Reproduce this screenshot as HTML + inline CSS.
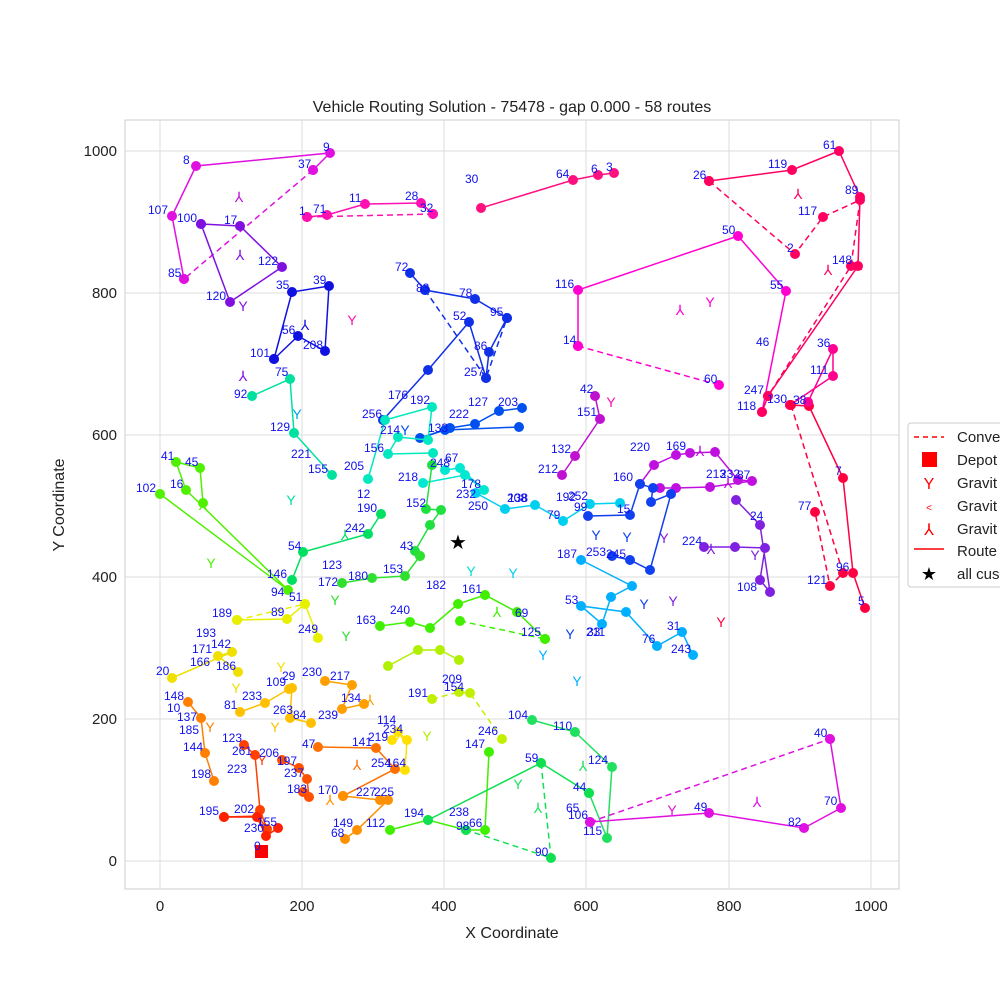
<!DOCTYPE html>
<html><head><meta charset="utf-8"><style>
body{margin:0;background:#fff}
svg{font-family:"Liberation Sans",sans-serif}
.r{fill:none;stroke-width:1.5}
.d{fill:none;stroke-width:1.5;stroke-dasharray:6,4}
.l{font-size:12px;fill:#1010ee}
.g{font-size:14px;text-anchor:middle}
</style></head><body>
<svg width="1000" height="1000" viewBox="0 0 1000 1000">
<defs>
<marker id="m" markerWidth="12" markerHeight="12" refX="6" refY="6" markerUnits="userSpaceOnUse"><circle cx="6" cy="6" r="5" fill="context-stroke"/></marker>
</defs>
<rect x="0" y="0" width="1000" height="1000" fill="#fff"/>
<rect x="125" y="120" width="774" height="769" fill="#fff" stroke="#ccc"/>
<g stroke="#ddd" stroke-width="1">
<line x1="160" y1="120" x2="160" y2="889"/><line x1="302" y1="120" x2="302" y2="889"/><line x1="444" y1="120" x2="444" y2="889"/><line x1="586" y1="120" x2="586" y2="889"/><line x1="729" y1="120" x2="729" y2="889"/><line x1="871" y1="120" x2="871" y2="889"/>
<line x1="125" y1="861" x2="899" y2="861"/><line x1="125" y1="719" x2="899" y2="719"/><line x1="125" y1="577" x2="899" y2="577"/><line x1="125" y1="435" x2="899" y2="435"/><line x1="125" y1="293" x2="899" y2="293"/><line x1="125" y1="151" x2="899" y2="151"/>
</g>
<g font-size="15" fill="#222" text-anchor="middle">
<text x="160" y="911">0</text><text x="302" y="911">200</text><text x="444" y="911">400</text><text x="586" y="911">600</text><text x="729" y="911">800</text><text x="871" y="911">1000</text>
<text x="512" y="938" font-size="16">X Coordinate</text>
<text x="512" y="112" font-size="16">Vehicle Routing Solution - 75478 - gap 0.000 - 58 routes</text>
</g>
<g font-size="15" fill="#222" text-anchor="end">
<text x="117" y="866">0</text><text x="117" y="724">200</text><text x="117" y="582">400</text><text x="117" y="440">600</text><text x="117" y="298">800</text><text x="117" y="156">1000</text>
</g>
<text transform="translate(64,505) rotate(-90)" font-size="16" fill="#222" text-anchor="middle">Y Coordinate</text>

<g class="g">
<text x="239" y="202" fill="#c010e0">⅄</text><text x="240" y="260" fill="#8010e0">⅄</text><text x="243" y="311" fill="#8010e0">Y</text><text x="305" y="330" fill="#1010e0">⅄</text><text x="352" y="325" fill="#ff10b0">Y</text>
<text x="243" y="381" fill="#8010e0">⅄</text><text x="297" y="419" fill="#00a0e0">Y</text><text x="291" y="505" fill="#00e0a0">Y</text><text x="211" y="568" fill="#50f000">Y</text><text x="203" y="510" fill="#50f000">⅄</text>
<text x="317" y="641" fill="#e8f000">⅄</text><text x="346" y="641" fill="#30e030">Y</text><text x="281" y="672" fill="#f0e000">Y</text><text x="236" y="693" fill="#f0e000">Y</text><text x="210" y="732" fill="#ff8000">Y</text>
<text x="275" y="732" fill="#ffc000">Y</text><text x="370" y="705" fill="#ffa000">⅄</text><text x="427" y="741" fill="#b0f000">Y</text><text x="357" y="770" fill="#ff7000">⅄</text><text x="330" y="805" fill="#ff9000">⅄</text>
<text x="471" y="576" fill="#00e0d0">Y</text><text x="513" y="578" fill="#00d0f0">Y</text><text x="543" y="660" fill="#00b0ff">Y</text><text x="577" y="686" fill="#00b0ff">Y</text><text x="570" y="639" fill="#1040f0">Y</text>
<text x="596" y="540" fill="#1040f0">Y</text><text x="627" y="542" fill="#1040f0">Y</text><text x="664" y="543" fill="#8020e0">Y</text><text x="644" y="609" fill="#1040f0">Y</text><text x="673" y="606" fill="#8020e0">Y</text>
<text x="721" y="627" fill="#ff0040">Y</text><text x="710" y="307" fill="#ff00d0">Y</text><text x="680" y="315" fill="#ff00d0">⅄</text><text x="757" y="807" fill="#e010e0">⅄</text><text x="828" y="275" fill="#ff0060">⅄</text>
<text x="858" y="270" fill="#ff0060">⅄</text><text x="798" y="199" fill="#ff0060">⅄</text><text x="711" y="554" fill="#8020e0">⅄</text><text x="728" y="488" fill="#c010e0">⅄</text><text x="700" y="456" fill="#c010e0">⅄</text>
<text x="611" y="407" fill="#ff10b0">Y</text><text x="497" y="617" fill="#40f000">⅄</text><text x="518" y="789" fill="#20e060">Y</text><text x="538" y="813" fill="#20e060">⅄</text><text x="405" y="435" fill="#0050f0">Y</text>
<text x="335" y="605" fill="#30e030">Y</text><text x="262" y="765" fill="#ff4000">Y</text><text x="345" y="540" fill="#00e060">⅄</text><text x="400" y="740" fill="#ffe000">⅄</text><text x="583" y="771" fill="#20e060">⅄</text><text x="672" y="815" fill="#e010e0">Y</text><text x="755" y="560" fill="#8020e0">Y</text>
</g>

<g marker-start="url(#m)" marker-mid="url(#m)" marker-end="url(#m)">
<polyline class="r" stroke="#e010e0" points="184,279 172,216 196,166 330,153 313,170"/>
<polyline class="d" stroke="#e010e0" points="313,170 184,279"/>
<polyline class="r" stroke="#8010e0" points="201,224 240,226 282,267 230,302 201,224"/>
<polyline class="r" stroke="#ff10b0" points="307,217 327,215 365,204 421,203 433,214"/>
<polyline class="d" stroke="#ff10b0" points="433,214 307,217"/>
<polyline class="r" stroke="#1010e0" points="274,359 298,336 325,351 329,286 292,292 274,359"/>
<polyline class="r" stroke="#1030e8" points="410,273 425,290 475,299 507,318 489,352 486,378 469,322 428,370 383,420"/>
<polyline class="d" stroke="#1030e8" points="425,290 486,378 507,318"/>
<polyline class="r" stroke="#0050f0" points="522,408 499,411 475,424 450,428 420,438 445,430 519,427"/>
<polyline class="r" stroke="#ff1080" points="481,208 573,180 598,175 614,173"/>
<polyline class="r" stroke="#ff00d0" points="578,346 578,290 738,236 786,291 762,412"/>
<polyline class="d" stroke="#ff00d0" points="578,346 719,385"/>
<polyline class="r" stroke="#ff0060" points="709,181 792,170 839,151 860,197 858,266 768,396 762,412"/>
<polyline class="d" stroke="#ff0060" points="709,181 795,254 823,217 860,200 851,266 768,396"/>
<polyline class="r" stroke="#ff0040" points="790,405 809,406 843,478 853,573 865,608"/>
<polyline class="r" stroke="#ff0090" points="808,402 833,349 833,376 790,405"/>
<polyline class="d" stroke="#ff0040" points="791,405 843,573 830,586 815,512"/>
<polyline class="r" stroke="#8020e0" points="704,547 735,547 765,548 760,580 770,592 760,525 736,500"/>
<polyline class="r" stroke="#c010e0" points="640,484 654,465 676,455 690,453 715,452 738,480 752,481 710,487 676,488 660,488"/>
<polyline class="r" stroke="#1040f0" points="588,516 630,515 640,484 653,488 651,502 671,494 650,570 630,560 612,556"/>
<polyline class="r" stroke="#00b0ff" points="581,560 632,586 611,597 602,624 581,606 626,612 657,646 682,632 693,655"/>
<polyline class="r" stroke="#00d0f0" points="476,493 505,509 535,505 563,521 590,504 620,503"/>
<polyline class="r" stroke="#00e0a0" points="252,396 290,379 294,433 332,475"/>
<polyline class="r" stroke="#00e8c0" points="368,479 385,420 432,407 428,440 398,437 388,454 433,453"/>
<polyline class="r" stroke="#00e8d0" points="423,483 465,475 484,490 460,468 445,470"/>
<polyline class="r" stroke="#00e060" points="292,580 303,552 368,534 381,514"/>
<polyline class="r" stroke="#20e040" points="420,556 415,551 430,525 441,510 426,509 432,465"/>
<polyline class="r" stroke="#50f000" points="160,494 288,590 186,490 176,462 200,468 203,503"/>
<polyline class="r" stroke="#30e030" points="342,583 372,578 405,576 420,556"/>
<polyline class="r" stroke="#40f000" points="380,626 410,622 430,628 458,604 485,595 517,612 545,639"/>
<polyline class="d" stroke="#40f000" points="460,621 545,639"/>
<polyline class="r" stroke="#b0f000" points="388,666 418,650 440,650 459,660"/>
<polyline class="r" stroke="#e8f000" points="237,620 287,619 305,604 318,638"/>
<polyline class="d" stroke="#e8f000" points="237,620 305,604"/>
<polyline class="r" stroke="#f0e000" points="172,678 232,652 218,656 238,672"/>
<polyline class="r" stroke="#ffc000" points="240,712 265,703 289,689 292,688 290,718 311,723"/>
<polyline class="r" stroke="#ffa000" points="325,681 352,685 342,709 364,704"/>
<polyline class="r" stroke="#ff8000" points="188,702 201,718 205,753 214,781"/>
<polyline class="r" stroke="#ff4000" points="244,745 255,755 260,810 267,829 258,816 224,817"/>
<polyline class="r" stroke="#ff2000" points="224,817 257,817 266,836 278,828"/>
<polyline class="r" stroke="#ff5000" points="282,760 299,768 307,779 309,797 303,792"/>
<polyline class="r" stroke="#ff7000" points="318,747 376,748 395,769 343,796"/>
<polyline class="r" stroke="#ff9000" points="343,796 380,800 388,800 357,830 345,839"/>
<polyline class="r" stroke="#ffe000" points="392,740 398,732 407,740 405,770"/>
<polyline class="d" stroke="#c0f000" points="432,699 459,692 470,693 502,739"/>
<polyline class="r" stroke="#40f000" points="489,752 485,830 466,830 428,820 390,830"/>
<polyline class="r" stroke="#20e060" points="532,720 575,732 612,767 607,838 589,793"/>
<polyline class="r" stroke="#10e050" points="428,820 541,763 589,793"/>
<polyline class="d" stroke="#10e050" points="541,763 551,858 466,830"/>
<polyline class="r" stroke="#e010e0" points="830,739 841,808 804,828 709,813 590,822"/>
<polyline class="d" stroke="#e010e0" points="590,822 830,739"/>
<polyline class="r" stroke="#c010d0" points="562,475 575,456 600,419 595,396"/>
</g>
<rect x="255" y="845" width="13" height="13" fill="red"/>
<text x="458" y="549" font-size="20" text-anchor="middle">★</text>
<g class="l">
<text x="183" y="164">8</text><text x="323" y="151">9</text><text x="298" y="168">37</text><text x="148" y="214">107</text><text x="168" y="277">85</text>
<text x="177" y="222">100</text><text x="224" y="224">17</text><text x="258" y="265">122</text><text x="206" y="300">120</text>
<text x="299" y="215">1</text><text x="313" y="213">71</text><text x="349" y="202">11</text><text x="405" y="200">28</text><text x="420" y="212">32</text>
<text x="276" y="289">35</text><text x="313" y="284">39</text><text x="303" y="349">208</text><text x="282" y="334">56</text><text x="250" y="357">101</text>
<text x="395" y="271">72</text><text x="416" y="292">83</text><text x="459" y="297">78</text><text x="490" y="316">95</text><text x="453" y="320">52</text><text x="474" y="350">86</text><text x="464" y="376">257</text>
<text x="465" y="183">30</text><text x="556" y="178">64</text><text x="591" y="173">6</text><text x="606" y="171">3</text>
<text x="555" y="288">116</text><text x="722" y="234">50</text><text x="770" y="289">55</text><text x="704" y="383">60</text><text x="563" y="344">14</text>
<text x="693" y="179">26</text><text x="768" y="168">119</text><text x="823" y="149">61</text><text x="845" y="194">89</text><text x="798" y="215">117</text><text x="787" y="252">2</text>
<text x="832" y="264">148</text><text x="744" y="394">247</text><text x="737" y="410">118</text><text x="767" y="403">130</text><text x="793" y="404">38</text><text x="817" y="347">36</text><text x="810" y="374">111</text><text x="756" y="346">46</text>
<text x="835" y="475">7</text><text x="798" y="510">77</text><text x="807" y="584">121</text><text x="836" y="571">96</text><text x="858" y="605">5</text>
<text x="682" y="545">224</text><text x="737" y="591">108</text><text x="750" y="520">24</text>
<text x="630" y="451">220</text><text x="666" y="450">169</text><text x="706" y="478">213</text><text x="720" y="478">232</text><text x="737" y="479">87</text>
<text x="613" y="481">160</text><text x="617" y="513">15</text>
<text x="557" y="558">187</text><text x="586" y="556">253</text><text x="606" y="558">245</text><text x="565" y="604">53</text><text x="586" y="636">211</text><text x="587" y="636">33</text><text x="642" y="643">76</text><text x="667" y="630">31</text><text x="671" y="653">243</text>
<text x="468" y="510">250</text><text x="507" y="502">208</text><text x="547" y="519">79</text><text x="556" y="501">192</text><text x="568" y="500">252</text><text x="574" y="511">99</text><text x="508" y="502">138</text>
<text x="234" y="398">92</text><text x="275" y="376">75</text><text x="270" y="431">129</text><text x="291" y="458">221</text><text x="308" y="473">155</text>
<text x="388" y="399">176</text><text x="410" y="404">192</text><text x="380" y="434">214</text><text x="362" y="418">256</text><text x="364" y="452">156</text><text x="428" y="432">133</text><text x="449" y="418">222</text><text x="468" y="406">127</text><text x="498" y="406">203</text>
<text x="398" y="481">218</text><text x="430" y="467">248</text><text x="461" y="488">178</text><text x="456" y="498">232</text><text x="344" y="470">205</text>
<text x="357" y="498">12</text><text x="357" y="512">190</text><text x="345" y="532">242</text><text x="288" y="550">54</text><text x="267" y="578">146</text>
<text x="406" y="507">152</text><text x="400" y="550">43</text><text x="445" y="462">67</text>
<text x="136" y="492">102</text><text x="161" y="460">41</text><text x="185" y="466">45</text><text x="170" y="488">16</text>
<text x="322" y="569">123</text><text x="348" y="580">180</text><text x="383" y="573">153</text><text x="318" y="586">172</text>
<text x="426" y="589">182</text><text x="462" y="593">161</text><text x="515" y="617">69</text><text x="521" y="636">125</text><text x="390" y="614">240</text><text x="356" y="624">163</text>
<text x="212" y="617">189</text><text x="271" y="616">89</text><text x="271" y="596">94</text><text x="289" y="601">51</text><text x="298" y="633">249</text>
<text x="196" y="637">193</text><text x="192" y="653">171</text><text x="190" y="666">166</text><text x="216" y="670">186</text><text x="156" y="675">20</text><text x="211" y="648">142</text>
<text x="266" y="686">109</text><text x="282" y="680">29</text><text x="302" y="676">230</text><text x="330" y="680">217</text><text x="341" y="702">134</text><text x="242" y="700">233</text><text x="224" y="709">81</text><text x="273" y="714">263</text><text x="293" y="719">84</text><text x="318" y="719">239</text>
<text x="164" y="700">148</text><text x="167" y="712">10</text><text x="177" y="721">137</text><text x="179" y="734">185</text><text x="183" y="751">144</text><text x="191" y="778">198</text>
<text x="222" y="742">123</text><text x="232" y="755">261</text><text x="259" y="757">206</text><text x="227" y="773">223</text><text x="199" y="815">195</text><text x="234" y="813">202</text><text x="244" y="832">230</text><text x="257" y="826">155</text><text x="254" y="850">0</text>
<text x="277" y="765">197</text><text x="284" y="777">237</text><text x="287" y="793">183</text><text x="302" y="748">47</text><text x="352" y="746">141</text><text x="368" y="741">219</text><text x="371" y="767">254</text><text x="386" y="767">164</text>
<text x="318" y="794">170</text><text x="356" y="796">227</text><text x="374" y="796">225</text><text x="333" y="827">149</text><text x="331" y="837">68</text><text x="366" y="827">112</text>
<text x="377" y="724">114</text><text x="383" y="733">234</text><text x="408" y="697">191</text><text x="442" y="683">209</text><text x="444" y="691">154</text><text x="478" y="735">246</text><text x="465" y="748">147</text>
<text x="404" y="817">194</text><text x="449" y="816">238</text><text x="456" y="830">98</text><text x="469" y="827">66</text><text x="535" y="856">90</text><text x="525" y="762">59</text>
<text x="508" y="719">104</text><text x="553" y="730">110</text><text x="588" y="764">124</text><text x="566" y="812">65</text><text x="568" y="819">106</text><text x="583" y="835">115</text><text x="573" y="791">44</text>
<text x="814" y="737">40</text><text x="824" y="805">70</text><text x="788" y="826">82</text><text x="694" y="811">49</text>
<text x="551" y="453">132</text><text x="538" y="473">212</text><text x="577" y="416">151</text><text x="580" y="393">42</text>
</g>
<rect x="908" y="423" width="100" height="164" fill="#fff" stroke="#ccc" rx="3"/>
<g stroke="red" stroke-width="1.5">
<line x1="914" y1="437" x2="944" y2="437" stroke-dasharray="5,4"/>
<line x1="914" y1="549" x2="944" y2="549"/>
</g>
<rect x="922" y="452" width="15" height="15" fill="red"/>
<g fill="red" font-size="16" text-anchor="middle"><text x="929" y="489">Y</text><text x="929" y="511" font-size="10">&lt;</text><text x="929" y="535">⅄</text></g>
<text x="929" y="580" font-size="18" text-anchor="middle">★</text>
<g font-size="15" fill="#222">
<text x="957" y="442">Conve</text><text x="957" y="465">Depot</text><text x="957" y="488">Gravit</text><text x="957" y="511">Gravit</text><text x="957" y="534">Gravit</text><text x="957" y="556">Route</text><text x="957" y="579">all cus</text>
</g>
</svg>
</body></html>
